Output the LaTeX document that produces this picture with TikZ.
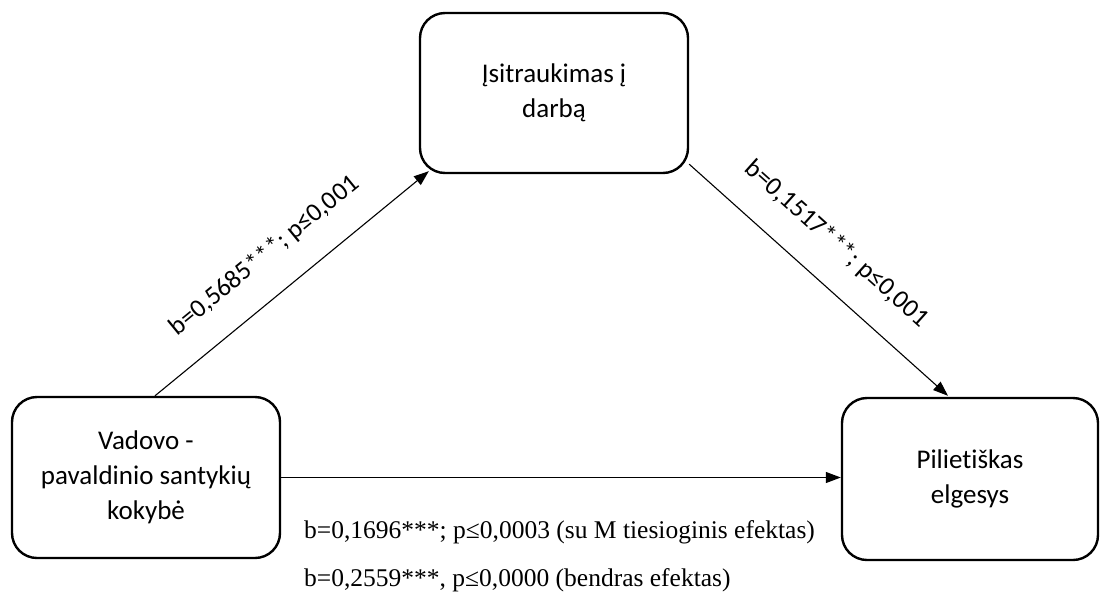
\documentclass[tikz,border=0pt]{standalone}
\usepackage{fontspec}
\setmainfont{Carlito}[RawFeature={-liga;-clig;-dlig;-calt;-rlig}]
\newfontfamily\notefont{Liberation Serif}
\usetikzlibrary{arrows.meta,calc}

% keep t and i as separate glyphs
\newcommand\tisep{t\kern0pt i}

\tikzset{
  box/.style={draw, line width=2.4pt, rounded corners=25pt, align=center,
    font=\fontsize{27}{35}\selectfont, inner sep=0pt},
  arr/.style={draw, line width=1.1pt, -{Triangle[length=15pt,width=11pt]}},
  lab/.style={font=\fontsize{26}{30}\selectfont, inner sep=0pt, sloped},
  note/.style={font=\notefont\fontsize{25.5}{30}\selectfont, inner sep=0pt, anchor=base west}
}

\begin{document}
\begin{tikzpicture}[x=1pt, y=-1pt]
  \useasboundingbox (0,0) rectangle (1100,595);

  % the three variables
  \node[box, minimum width=268pt, minimum height=161pt] (L) at (146,477.5)
    {Vadovo -\\pavaldinio santykių\\kokybė};
  \node[box, minimum width=268pt, minimum height=160pt] (T) at (554,93)
    {Įsitraukimas į\\darbą};
  \node[box, minimum width=256pt, minimum height=162pt] (R) at (970,479)
    {Pilie\tisep škas\\elgesys};

  % paths of the mediation model
  \draw[arr] ($(L.north)+(9,0)$) -- ($(T.south west)+(10,-3)$)
    node[lab, above=27pt, pos=0.49] {b=0,5685***; p≤0,001};
  \draw[arr] ($(T.south east)+(0,-10)$) -- ($(R.north)+(-22,-1)$)
    node[lab, above=27pt, pos=0.47] {b=0,1517***; p≤0,001};
  \draw[arr] (L.east) -- (L.east -| R.west);

  % direct and total effects
  \node[note] (d1) at (304,538) {b=0,1696***; p≤0,0003 (su M tiesioginis efektas)};
  \node[note] (d2) at (304,586) {b=0,2559***, p≤0,0000 (bendras efektas)};
\end{tikzpicture}
\end{document}
